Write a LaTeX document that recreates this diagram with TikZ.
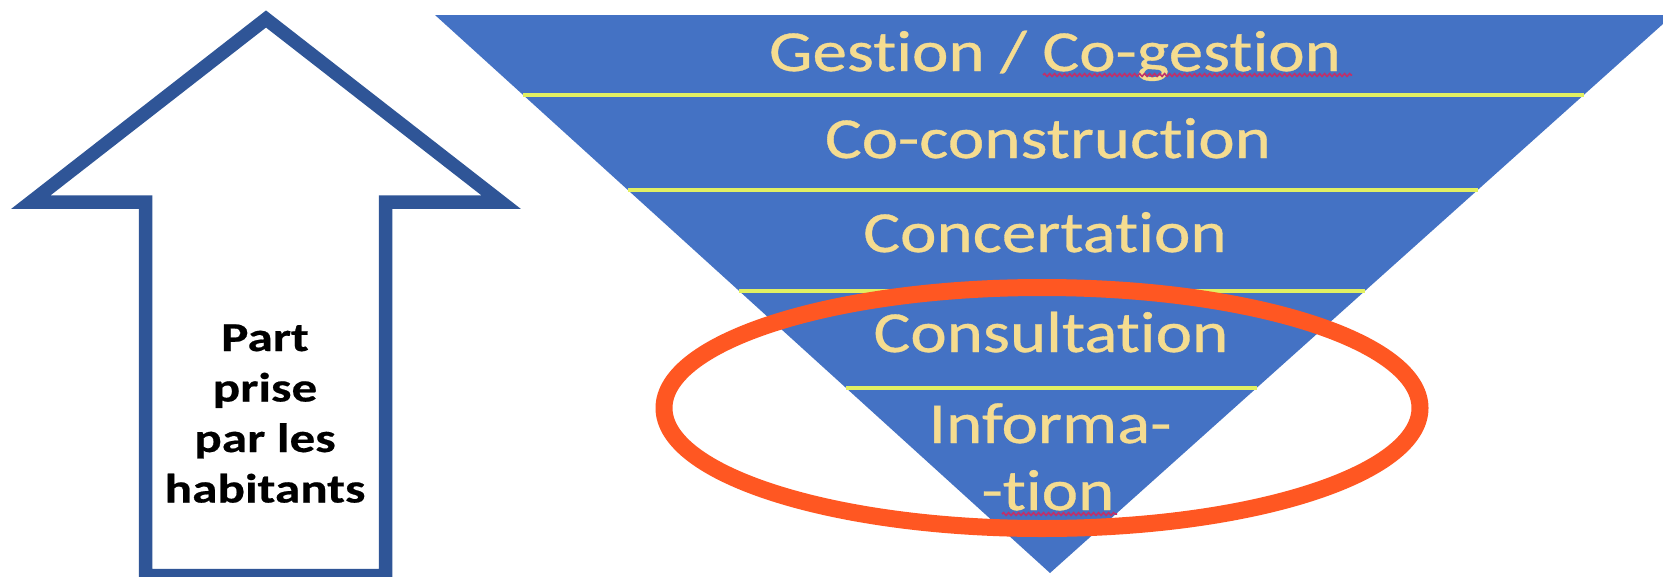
\documentclass[tikz,border=0pt]{standalone}
\usepackage{fontspec}
\usetikzlibrary{calc,decorations.pathmorphing}
\newfontfamily\lvlfont[FakeStretch=1.19, FakeBold=0.6, Ligatures={NoCommon}]{Carlito}
\newfontfamily\arrfont[FakeStretch=1.25, FakeBold=0.5, Ligatures={NoCommon}]{Carlito}
\definecolor{triblue}{HTML}{4472C4}
\definecolor{arrblue}{HTML}{2F5597}
\definecolor{lvltext}{HTML}{F5DC90}
\definecolor{sepline}{HTML}{E2F062}
\definecolor{ringred}{HTML}{FF5722}
\definecolor{squig}{HTML}{C0306A}
\begin{document}
\begin{tikzpicture}[x=1pt,y=-1pt,
  lvl/.style={font=\lvlfont\fontsize{58}{60}\selectfont, text=lvltext, anchor=base, inner sep=0pt},
  arr/.style={font=\arrfont\bfseries\fontsize{41}{44}\selectfont, text=black, anchor=base, inner sep=0pt},
  sep/.style={draw=sepline, line width=3.5pt},
  squiggle/.style={draw=squig, line width=1.6pt, decorate, decoration={snake, segment length=5pt, amplitude=1.4pt}}]
\path[use as bounding box, clip] (0,0) rectangle (1663,576);
\fill[white] (0,0) rectangle (1663,576);
% inverted pyramid
\coordinate (tl) at (435,15);
\coordinate (tr) at (1673,15);
\coordinate (ap) at (1050,573);
\fill[triblue] (tl) -- (tr) -- (ap) -- cycle;
\foreach \t in {0.1434,0.3136,0.4946,0.6685}{
  \draw[sep] ($(tl)!\t!(ap)$) -- ($(tr)!\t!(ap)$);
}
\node[lvl] (g)    at (1055,71)  {Gestion / Co-gestion};
\node[lvl] (cc)   at (1048,158) {Co-construction};
\node[lvl] (ct)   at (1045,252) {Concertation};
\node[lvl] (cs)   at (1051,352) {Consultation};
\node[lvl] (inf1) at (1050,443) {Informa-};
\node[lvl] (inf2) at (1048,510) {-tion};
\draw[squiggle] (1043,75) -- (1352,75);
\draw[squiggle] (1002,514) -- (1117,514);
% red ring
\draw[ringred, line width=17pt] (1042,408) ellipse [x radius=378pt, y radius=120.5pt];
% arrow
\draw[arrblue, fill=white, line width=13.5pt, miter limit=20]
  (266,19) -- (501,202) -- (385.5,202) -- (385.5,575.5) -- (145.5,575.5) -- (145.5,202) -- (31,202) -- cycle;
\node[arr] (a1) at (265,351)   {Part};
\node[arr] (a2) at (265,401.5) {prise};
\node[arr] (a3) at (265,452)   {par les};
\node[arr] (a4) at (265,502.5) {habitants};
\end{tikzpicture}
\end{document}
